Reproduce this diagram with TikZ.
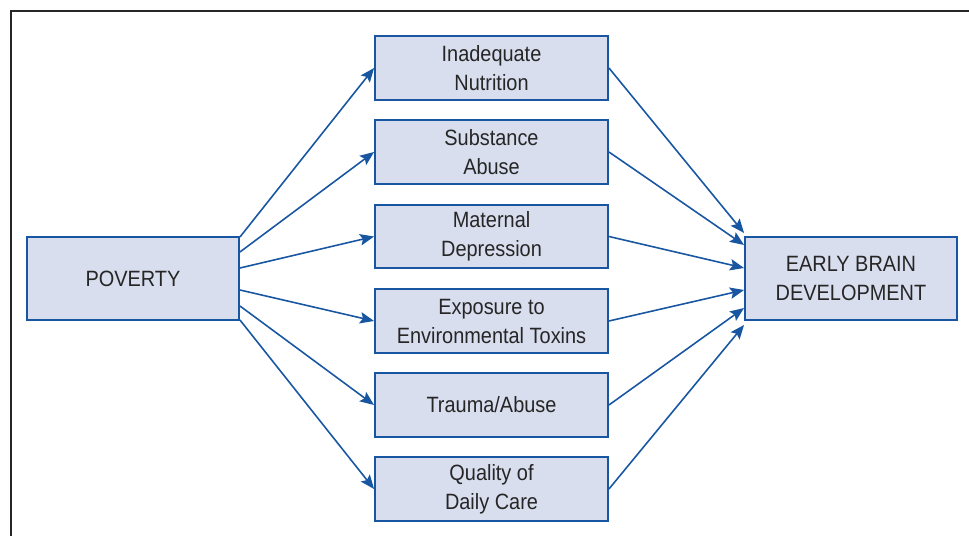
\documentclass[tikz,border=0pt]{standalone}
\usepackage{fontspec}
\setmainfont[FakeStretch=0.9]{Liberation Sans}
\usetikzlibrary{positioning,arrows.meta}
\definecolor{boxblue}{RGB}{24,86,162}
\definecolor{boxfill}{RGB}{216,222,238}

\begin{document}
\begin{tikzpicture}
        [x=0.02cm,y=-0.02cm,
         every node/.style={draw=boxblue,line width=1.1pt,fill=boxfill,text=black!85,
           align=center,inner sep=0pt,font=\fontsize{12.6}{16.5}\selectfont},
         factor/.style={minimum width=4.66cm,minimum height=1.27cm},
         endbox/.style={minimum width=4.24cm,minimum height=1.66cm},
         link/.style={draw=boxblue,line width=0.9pt,-{Stealth[length=8pt,width=6.5pt,inset=1.5pt]}}]
        \useasboundingbox (0,0) rectangle (969,536);
        \draw[line width=1.2pt,black!85] (11,536) -- (11,11) -- (969,11);

        \node[endbox] (poverty) at (133,278.5) {POVERTY};
        \node[endbox] (brain) at (851,278.5) {EARLY BRAIN\\DEVELOPMENT};

        \node[factor] (nutrition) at (491.5,68) {Inadequate\\Nutrition};
        \node[factor] (substance) at (491.5,152) {Substance\\Abuse};
        \node[factor] (depression) at (491.5,236.5) {Maternal\\Depression};
        \node[factor] (toxins) at (491.5,321) {Exposure to\\Environmental Toxins};
        \node[factor] (trauma) at (491.5,405) {Trauma/Abuse};
        \node[factor] (care) at (491.5,489) {Quality of\\Daily Care};

        \draw[link] ([yshift=0.83cm]poverty.east) -- (nutrition.west);
        \draw[link] ([yshift=0.53cm]poverty.east) -- (substance.west);
        \draw[link] ([yshift=0.21cm]poverty.east) -- (depression.west);
        \draw[link] ([yshift=-0.23cm]poverty.east) -- (toxins.west);
        \draw[link] ([yshift=-0.55cm]poverty.east) -- (trauma.west);
        \draw[link] ([yshift=-0.83cm]poverty.east) -- (care.west);

        \draw[link] (nutrition.east) -- ([yshift=0.91cm]brain.west);
        \draw[link] (substance.east) -- ([yshift=0.67cm]brain.west);
        \draw[link] (depression.east) -- ([yshift=0.21cm]brain.west);
        \draw[link] (toxins.east) -- ([yshift=-0.23cm]brain.west);
        \draw[link] (trauma.east) -- ([yshift=-0.59cm]brain.west);
        \draw[link] (care.east) -- ([yshift=-0.93cm]brain.west);
    \end{tikzpicture}
\end{document}
